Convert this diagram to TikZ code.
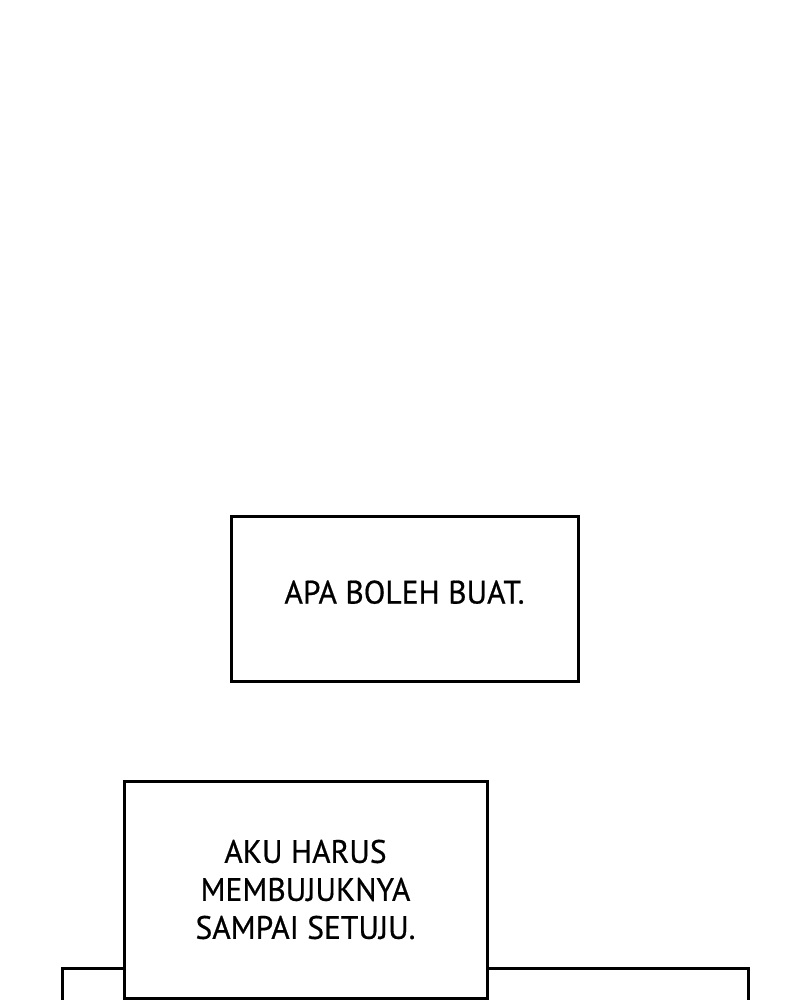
\documentclass[tikz,border=0pt]{standalone}
\usepackage{fontspec}
\setmainfont{PT Sans}[FakeBold=0.6,FakeStretch=0.97]
\begin{document}
\begin{tikzpicture}[x=1pt,y=-1pt,line width=3pt,
		captionbox/.style={draw,fill=white,inner sep=0pt,align=center,font=\fontsize{32.5}{38}\selectfont}]
	\useasboundingbox (0,0) rectangle (800,1000);
	\clip (0,0) rectangle (800,1000);
	\node[draw,fill=white,minimum width=686pt,minimum height=200pt,anchor=north west] (panel) at (61,967) {};
	\node[captionbox,minimum width=347pt,minimum height=165pt,text depth=13pt] (boleh) at (404.5,598.5) {APA BOLEH BUAT.};
	\node[captionbox,minimum width=363pt,minimum height=217pt] (bujuk) at (305.5,889.5) {AKU HARUS\\MEMBUJUKNYA\\SAMPAI SETUJU.};
\end{tikzpicture}
\end{document}
